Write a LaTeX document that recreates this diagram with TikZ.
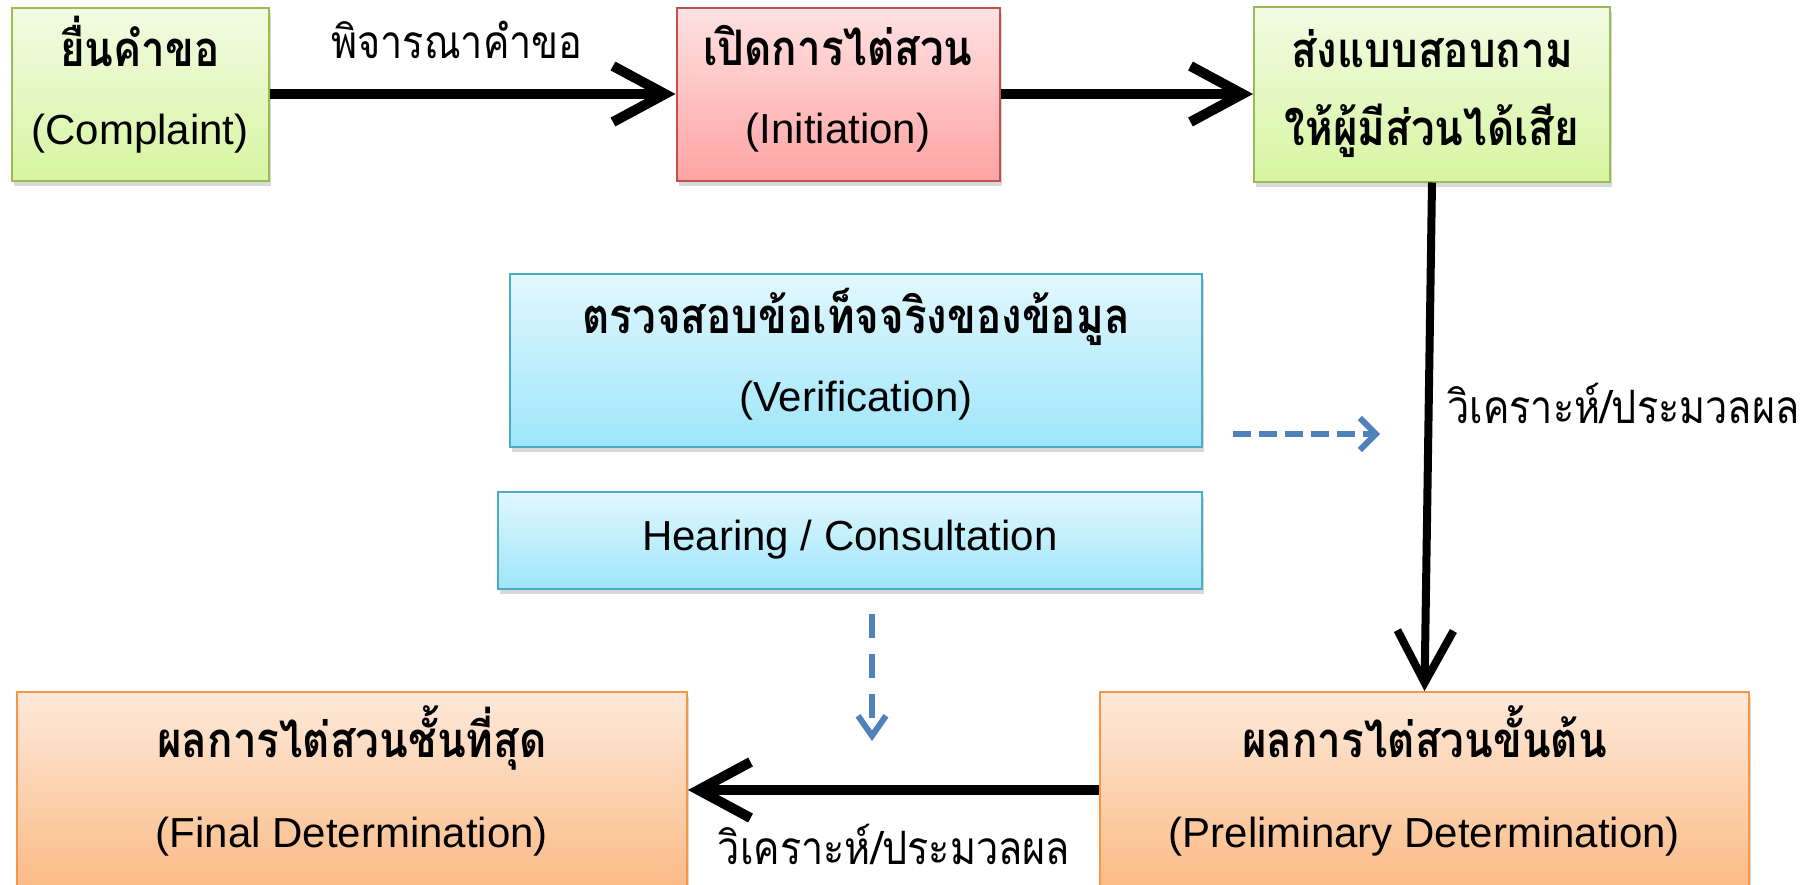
\documentclass[tikz,border=0pt]{standalone}
\usepackage{fontspec}
\setmainfont{Liberation Sans}
\newfontfamily\thai[Script=Thai]{Loma}
\newfontfamily\thaic[Script=Thai, FakeStretch=0.86]{Loma}
\newcommand\thb{\thaic\bfseries\fontsize{24.5}{39}\selectfont}
\usetikzlibrary{arrows.meta,shadows}
\definecolor{gbord}{HTML}{9BBB59}
\definecolor{gtop}{HTML}{F2FBE3}
\definecolor{gbot}{HTML}{D7F5A1}
\definecolor{rbord}{HTML}{C0504D}
\definecolor{rtop}{HTML}{FFE2E2}
\definecolor{rbot}{HTML}{FFA3A3}
\definecolor{bbord}{HTML}{4BACC6}
\definecolor{btop}{HTML}{E2F7FD}
\definecolor{bbot}{HTML}{9EE6FB}
\definecolor{obord}{HTML}{F79646}
\definecolor{otop}{HTML}{FDE9DA}
\definecolor{obot}{HTML}{FBBB86}
\definecolor{dblue}{HTML}{4F81BD}
\tikzset{
  box/.style={draw, line width=1pt, align=center, inner sep=0pt,
    font=\fontsize{21}{39}\selectfont,
    drop shadow={shadow xshift=1pt,shadow yshift=-2.5pt,opacity=0.3}},
  gbox/.style={box, draw=gbord, top color=gtop, bottom color=gbot},
  rbox/.style={box, draw=rbord, top color=rtop, bottom color=rbot},
  bbox/.style={box, draw=bbord, top color=btop, bottom color=bbot},
  obox/.style={box, draw=obord, top color=otop, bottom color=obot},
  bigarrow/.style={line width=5pt, -{Straight Barb[length=26pt,width=28pt]}},
  dasharrow/.style={line width=3pt, draw=dblue, dash pattern=on 9pt off 4pt, -{Straight Barb[length=8pt,width=16pt]}},
  lbl/.style={font=\thaic\fontsize{23}{25}\selectfont, inner sep=0pt}
}
\begin{document}
\begin{tikzpicture}[x=0.5pt,y=-0.5pt]
\useasboundingbox (0,0) rectangle (1816,884);
\node[gbox, minimum width=128.5pt, minimum height=86.5pt, text depth=14pt] (comp) at (140,94)
  {{\thb ยื่นคำขอ}\\(Complaint)};
\node[rbox, minimum width=161.5pt, minimum height=86.5pt, text depth=10pt] (init) at (838,94)
  {{\thb เปิดการไต่สวน}\\(Initiation)};
\node[gbox, minimum width=178pt, minimum height=87.5pt] (quest) at (1432,94)
  {{\thb ส่งแบบสอบถาม}\\{\thb ให้ผู้มีส่วนได้เสีย}};
\node[bbox, minimum width=346pt, minimum height=86.5pt, text depth=10pt] (verif) at (856,360)
  {{\thb ตรวจสอบข้อเท็จจริงของข้อมูล}\\(Verification)};
\node[bbox, minimum width=352pt, minimum height=48.5pt] (hear) at (850,540)
  {Hearing / Consultation};
\node[obox, minimum width=335pt, minimum height=98pt, text depth=13.5pt, font=\fontsize{21}{45}\selectfont] (final) at (352,790)
  {{\thb ผลการไต่สวนชั้นที่สุด}\\(Final Determination)};
\node[obox, minimum width=324.5pt, minimum height=98pt, text depth=13.5pt, font=\fontsize{21}{45}\selectfont] (prelim) at (1424.5,790)
  {{\thb ผลการไต่สวนขั้นต้น}\\(Preliminary Determination)};

\node[lbl] (l1) at (457,40) {พิจารณาคำขอ};
\node[lbl, anchor=west] (l2) at (1447,403) {วิเคราะห์/ประมวลผล};
\node[lbl] (l3) at (894,844) {วิเคราะห์/ประมวลผล};

\coordinate (d1s) at (1233,434);
\coordinate (d1e) at (1380,434);
\coordinate (d2s) at (872,614);
\coordinate (d2e) at (872,741);

\draw[bigarrow] (comp.east) -- (init.west);
\draw[bigarrow] (init.east) -- (quest.west);
\draw[bigarrow, line width=4pt] (quest.south) -- (prelim.north);
\draw[bigarrow] (prelim.west) -- (final.east);
\draw[dasharrow] (d1s) -- (d1e);
\draw[dasharrow, dash pattern=on 12pt off 8pt, -{Straight Barb[length=10pt,width=14pt]}] (d2s) -- (d2e);
\end{tikzpicture}
\end{document}
